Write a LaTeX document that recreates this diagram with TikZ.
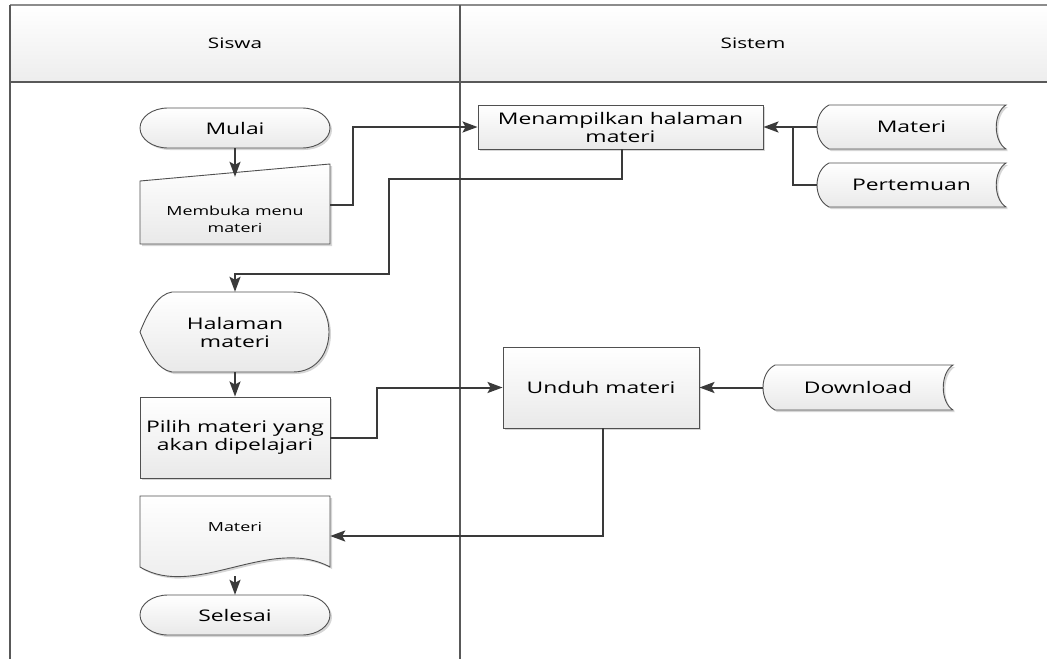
\documentclass[tikz,border=0pt]{standalone}
\usepackage{fontspec}
\setmainfont{Open Sans}[FakeStretch=1.43]
\usetikzlibrary{arrows.meta}
\definecolor{linegray}{HTML}{3A3A3A}
\definecolor{edgegray}{HTML}{505050}
\definecolor{fillbot}{HTML}{E9E9E9}
\begin{document}
\begin{tikzpicture}[x=1pt,y=1pt,
  shp/.style={preaction={fill=black!16,transform canvas={shift={(2pt,-2pt)}}},
    top color=white,bottom color=fillbot,draw=edgegray,line width=0.9pt},
  box/.style={shp,rectangle,inner sep=2pt,align=center},
  lbl/.style={inner sep=0pt,align=center,text=black,font=\fontsize{16}{18}\selectfont},
  small/.style={inner sep=0pt,align=center,text=black,font=\fontsize{12.5}{17}\selectfont},
  hold/.style={inner sep=0pt,minimum width=#1},
  conn/.style={draw=linegray,line width=2pt,
    -{Stealth[length=15pt,width=11pt,inset=3pt]}},
  plain/.style={draw=linegray,line width=2pt},
  lane/.style={draw=black!65,line width=1.1pt}]
\useasboundingbox (0,0) rectangle (1047,-659);

% swimlane header and frame
\shade[top color=white,bottom color=black!7] (10,-5) rectangle (1047,-82);
\draw[draw=black!45,line width=1.2pt] (10,-5) -- (1047,-5);
\draw[lane] (10,-82) -- (1047,-82);
\draw[lane] (10,-5) -- (10,-659);
\draw[lane] (460,-5) -- (460,-659);
\node[text=black,font=\fontsize{14.5}{16}\selectfont] (hsiswa) at (235,-43) {Siswa};
\node[text=black,font=\fontsize{14.5}{16}\selectfont] (hsistem) at (753,-43) {Sistem};

% terminators
\path[shp] (168,-108) -- (302,-108) arc[start angle=90,end angle=-90,x radius=28,y radius=20]
  -- (168,-148) arc[start angle=270,end angle=90,x radius=28,y radius=20] -- cycle;
\path[shp] (168,-595) -- (302,-595) arc[start angle=90,end angle=-90,x radius=28,y radius=20]
  -- (168,-635) arc[start angle=270,end angle=90,x radius=28,y radius=20] -- cycle;
% manual input
\path[shp] (140,-181) -- (330,-164) -- (330,-244) -- (140,-244) -- cycle;
% display
\path[shp] (140,-332) .. controls (148,-312) and (158,-294) .. (172,-292) -- (293,-292)
  .. controls (341,-292) and (341,-372) .. (293,-372) -- (172,-372)
  .. controls (158,-370) and (148,-352) .. (140,-332) -- cycle;
% document
\path[shp] (140,-496) -- (330,-496) -- (330,-567)
  .. controls (270,-535) and (195,-600) .. (140,-567) -- cycle;
% stored data
\path[shp] (829,-105) -- (1006,-105) .. controls (993,-113) and (993,-141) .. (1006,-149)
  -- (829,-149) .. controls (813,-141) and (813,-113) .. (829,-105) -- cycle;
\path[shp] (829,-163) -- (1006,-163) .. controls (993,-171) and (993,-199) .. (1006,-207)
  -- (829,-207) .. controls (813,-199) and (813,-171) .. (829,-163) -- cycle;
\path[shp] (775,-365) -- (953,-365) .. controls (940,-373) and (940,-402) .. (953,-410)
  -- (775,-410) .. controls (759,-402) and (759,-373) .. (775,-365) -- cycle;

% node texts and anchors
\node[lbl,hold=190,minimum height=40] (mulai) at (235,-128) {Mulai};
\node[hold=190,minimum height=67] (buka) at (235,-210.5) {};
\node[small] (bukalbl) at (235,-219) {Membuka menu\\materi};
\node[lbl,hold=190,minimum height=80] (hal) at (235,-332) {Halaman\\materi};
\node[box,lbl,minimum width=190,minimum height=81] (pilih) at (235,-437.5)
  {Pilih materi yang\\akan dipelajari};
\node[hold=190,minimum height=80] (doc) at (235,-536) {};
\node[small] (doclbl) at (235,-527) {Materi};
\node[lbl,hold=190,minimum height=40] (sel) at (235,-615) {Selesai};

\node[box,lbl,minimum width=285,minimum height=44] (menamp) at (620.5,-127)
  {Menampilkan halaman\\materi};
\node[lbl,hold=189,minimum height=44] (mat) at (911.5,-127) {Materi};
\node[lbl,hold=189,minimum height=44] (pert) at (911.5,-185) {Pertemuan};
\node[box,lbl,minimum width=196,minimum height=81] (unduh) at (601,-387.5) {Unduh materi};
\node[lbl,hold=190,minimum height=45] (down) at (858,-387.5) {Download};

% flow
\draw[conn] (mulai.south) -- (buka.north);
\draw[conn] ([yshift=5.5pt]buka.east) -- ++(23,0) |- (menamp.west);
\draw[conn] (mat.west) -- (menamp.east);
\draw[plain] (pert.west) -| ([xshift=-24pt]mat.west);
\draw[conn] ([xshift=1.5pt]menamp.south) -- ++(0,-30) -- ++(-233,0) -- ++(0,-95) -| (hal.north);
\draw[conn] (hal.south) -- (pilih.north);
\draw[conn] (pilih.east) -- ++(47,0) |- (unduh.west);
\draw[conn] (down.west) -- (unduh.east);
\draw[conn] ([xshift=2pt]unduh.south) |- (doc.east);
\draw[conn] (doc.south) -- (sel.north);
\end{tikzpicture}
\end{document}
